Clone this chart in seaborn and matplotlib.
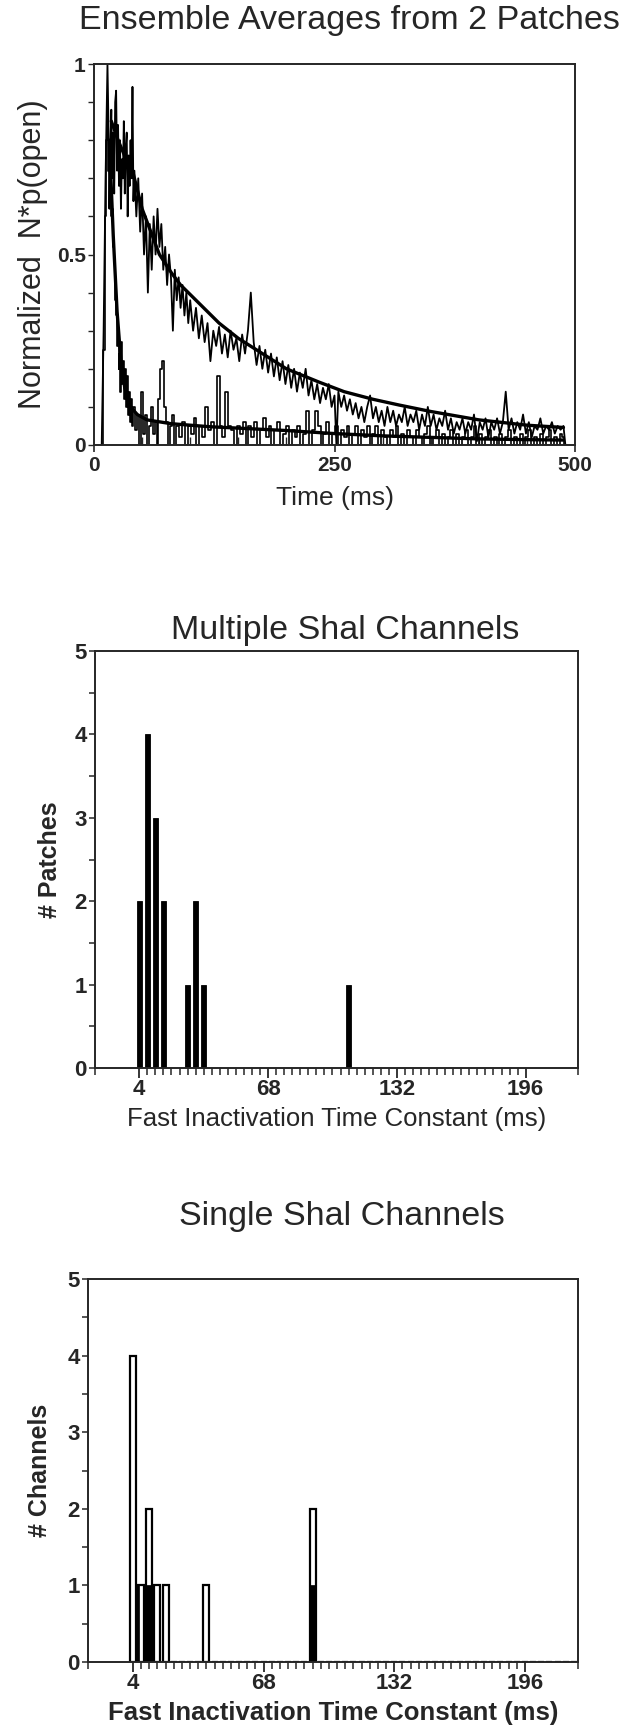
import numpy as np
import pandas as pd
import matplotlib
matplotlib.use("Agg")
import matplotlib.pyplot as plt
import seaborn as sns
from matplotlib.ticker import FixedLocator, MultipleLocator

# ---------------- data ----------------
slow_t = [8, 10, 12, 14, 15, 16, 17, 18, 19, 20, 21, 22, 23, 24, 25, 26, 27, 28, 29, 30,
          31, 32, 33, 34, 35, 36, 37, 38, 39, 40, 41, 42, 44, 46, 48, 50, 52, 54, 56, 58,
          60, 62, 64, 66, 68, 70, 72, 74, 76, 78, 80, 82, 84, 86, 88, 90, 92, 94, 96, 98,
          100, 103, 106, 109, 112, 115, 118, 121, 124, 127, 130, 133, 136, 139, 142, 145,
          148, 151, 154, 157, 160, 163, 166, 169, 172, 175, 178, 181, 184, 187, 190, 193,
          196, 199, 202, 205, 208, 211, 214, 217, 220, 223, 226, 229, 232, 235, 238, 241,
          244, 247, 250, 252, 254, 257, 260, 263, 266, 269, 272, 275, 278, 281, 284, 287,
          290, 293, 296, 299, 302, 305, 308, 311, 314, 317, 320, 323, 326, 329, 332, 335,
          338, 341, 344, 347, 350, 353, 356, 359, 362, 365, 368, 371, 374, 377, 380, 383,
          386, 389, 392, 395, 398, 401, 404, 407, 410, 413, 416, 419, 422, 425, 428, 431,
          434, 437, 440, 443, 446, 449, 452, 455, 458, 461, 464, 467, 470, 473, 476, 479,
          482, 485, 488, 490]
slow_v = [0.0, 0.3, 0.7, 1.0, 0.85, 0.62, 0.78, 0.88, 0.7, 0.82, 0.66, 0.9, 0.93, 0.72, 0.84,
          0.68, 0.8, 0.62, 0.75, 0.7, 0.85, 0.66, 0.78, 0.82, 0.6, 0.76, 0.68, 0.8, 0.7, 0.94,
          0.64, 0.72, 0.6, 0.7, 0.56, 0.66, 0.5, 0.6, 0.4, 0.58, 0.46, 0.6, 0.5, 0.62, 0.52,
          0.58, 0.46, 0.52, 0.42, 0.5, 0.44, 0.3, 0.46, 0.38, 0.44, 0.36, 0.42, 0.34, 0.4, 0.32,
          0.38, 0.3, 0.36, 0.28, 0.34, 0.27, 0.32, 0.22, 0.3, 0.26, 0.31, 0.24, 0.29, 0.23, 0.3,
          0.25, 0.28, 0.22, 0.29, 0.24, 0.3, 0.4, 0.27, 0.21, 0.26, 0.2, 0.25, 0.19, 0.24, 0.18,
          0.23, 0.17, 0.22, 0.16, 0.21, 0.15, 0.2, 0.14, 0.19, 0.15, 0.2, 0.13, 0.17, 0.12, 0.16,
          0.11, 0.15, 0.12, 0.16, 0.1, 0.13, 0.0, 0.14, 0.1, 0.13, 0.09, 0.12, 0.08, 0.11, 0.07,
          0.1, 0.06, 0.1, 0.13, 0.07, 0.1, 0.06, 0.09, 0.05, 0.1, 0.06, 0.09, 0.05, 0.08, 0.06,
          0.1, 0.05, 0.08, 0.06, 0.09, 0.04, 0.08, 0.05, 0.1, 0.05, 0.08, 0.04, 0.07, 0.05, 0.09,
          0.04, 0.07, 0.03, 0.06, 0.04, 0.07, 0.03, 0.06, 0.04, 0.08, 0.01, 0.06, 0.04, 0.07,
          0.02, 0.06, 0.04, 0.07, 0.03, 0.06, 0.14, 0.04, 0.07, 0.03, 0.06, 0.04, 0.08, 0.03,
          0.06, 0.02, 0.05, 0.04, 0.07, 0.03, 0.05, 0.04, 0.06, 0.03, 0.05, 0.04, 0.05, 0.0]

fast_t = [8, 10, 12, 13, 14, 15, 16, 17, 18, 19, 20, 21, 22, 23, 24, 25, 26, 27, 28, 29, 30,
          31, 32, 33, 34, 35, 36, 37, 38, 39, 40, 42, 44, 46, 48, 50, 52, 54, 56, 58, 60, 62,
          64, 66, 68, 70, 72, 74, 76, 78, 80, 82, 84, 87, 90, 93, 96, 99, 102, 105, 108, 111,
          114, 117, 120, 123, 126, 129, 132, 135, 138, 141, 144, 147, 150, 153, 156, 159, 162,
          165, 168, 171, 174, 177, 180, 183, 186, 189, 192, 195, 198, 201, 204, 207, 210, 213,
          216, 219, 222, 225, 228, 231, 234, 237, 240, 243, 246, 249, 252, 255, 258, 261, 264,
          267, 270, 273, 276, 279, 282, 285, 288, 291, 294, 297, 300, 303, 306, 309, 312, 315,
          318, 321, 324, 327, 330, 333, 336, 339, 342, 345, 348, 351, 354, 357, 360, 363, 366,
          369, 372, 375, 378, 381, 384, 387, 390, 393, 396, 399, 402, 405, 408, 411, 414, 417,
          420, 423, 426, 429, 432, 435, 438, 441, 444, 447, 450, 453, 456, 459, 462, 465, 468,
          471, 474, 477, 480, 483, 486, 488, 490]
fast_v = [0.0, 0.25, 0.6, 0.8, 0.9, 0.72, 0.78, 0.68, 0.6, 0.62, 0.52, 0.48, 0.38, 0.34, 0.26,
          0.3, 0.2, 0.24, 0.14, 0.27, 0.16, 0.22, 0.12, 0.2, 0.1, 0.18, 0.08, 0.14, 0.06, 0.12,
          0.05, 0.1, 0.04, 0.08, 0.0, 0.14, 0.03, 0.08, 0.0, 0.05, 0.1, 0.03, 0.06, 0.0, 0.12,
          0.2, 0.22, 0.1, 0.06, 0.0, 0.05, 0.08, 0.0, 0.05, 0.02, 0.06, 0.0, 0.05, 0.03, 0.07,
          0.0, 0.05, 0.02, 0.1, 0.04, 0.06, 0.0, 0.18, 0.05, 0.02, 0.14, 0.05, 0.04, 0.0, 0.05,
          0.03, 0.06, 0.0, 0.05, 0.02, 0.06, 0.0, 0.04, 0.07, 0.02, 0.05, 0.0, 0.04, 0.06, 0.0,
          0.03, 0.05, 0.0, 0.04, 0.02, 0.05, 0.0, 0.03, 0.09, 0.0, 0.04, 0.09, 0.05, 0.0, 0.03,
          0.06, 0.0, 0.03, 0.05, 0.0, 0.04, 0.02, 0.05, 0.0, 0.03, 0.05, 0.0, 0.04, 0.02, 0.05,
          0.0, 0.03, 0.05, 0.0, 0.04, 0.02, 0.0, 0.04, 0.02, 0.05, 0.0, 0.03, 0.0, 0.04, 0.02,
          0.0, 0.04, 0.02, 0.0, 0.03, 0.05, 0.0, 0.02, 0.04, 0.0, 0.03, 0.0, 0.02, 0.04, 0.0,
          0.03, 0.0, 0.02, 0.04, 0.0, 0.02, 0.05, 0.0, 0.03, 0.0, 0.02, 0.04, 0.0, 0.02, 0.0,
          0.03, 0.0, 0.02, 0.04, 0.0, 0.02, 0.0, 0.03, 0.0, 0.02, 0.04, 0.0, 0.02, 0.0, 0.03,
          0.0, 0.02, 0.04, 0.0, 0.02, 0.0, 0.03, 0.02, 0.0]

slow_fit_t = [18, 25, 35, 41, 50, 68, 81, 90, 110, 130, 150, 175, 200, 234, 260, 290, 317,
              350, 400, 450, 488]
slow_fit_v = [0.85, 0.8, 0.74, 0.71, 0.62, 0.5, 0.45, 0.42, 0.37, 0.32, 0.28, 0.24, 0.2,
              0.165, 0.14, 0.12, 0.105, 0.088, 0.066, 0.052, 0.046]
fast_fit_t = [16, 20, 24, 28, 32, 38, 45, 55, 80, 120, 160, 200, 250, 300, 350, 400, 450, 488]
fast_fit_v = [0.8, 0.55, 0.35, 0.22, 0.15, 0.1, 0.08, 0.066, 0.056, 0.048, 0.043, 0.038,
              0.03, 0.024, 0.02, 0.016, 0.014, 0.013]

multi_tau = [4, 8, 12, 16, 28, 32, 36, 108]
multi_count = [2, 4, 3, 2, 1, 2, 1, 1]

single_tau = [4, 8, 12, 16, 20, 40, 92]
single_count = [4, 1, 2, 1, 1, 1, 2]
single_black_tau = [6.4, 12, 92]
single_black_count = [1, 1, 1]

hist_xticks = [4, 68, 132, 196]

# ---------------- styling ----------------
sns.set_theme(style="ticks")
plt.rcParams['font.family'] = ['Liberation Sans', 'DejaVu Sans']
plt.rcParams['axes.linewidth'] = 1.4

W, H = 628, 1730
fig = plt.figure(figsize=(W / 100, H / 100), dpi=100)


def box(l, t, r, b):
    return [l / W, 1 - b / H, (r - l) / W, (b - t) / H]


# ---------------- top: ensemble averages ----------------
ax1 = fig.add_axes(box(94, 64, 575, 445))
df_slow = pd.DataFrame({"t": slow_t, "v": slow_v})
df_fast = pd.DataFrame({"t": fast_t, "v": fast_v})
df_sfit = pd.DataFrame({"t": slow_fit_t, "v": slow_fit_v})
df_ffit = pd.DataFrame({"t": fast_fit_t, "v": fast_fit_v})
sns.lineplot(data=df_fast, x="t", y="v", ax=ax1, color="black", lw=1.2,
             estimator=None, sort=False, drawstyle="steps-mid")
sns.lineplot(data=df_slow, x="t", y="v", ax=ax1, color="black", lw=1.3,
             estimator=None, sort=False)
sns.lineplot(data=df_sfit, x="t", y="v", ax=ax1, color="black", lw=2.4,
             estimator=None, sort=False)
sns.lineplot(data=df_ffit, x="t", y="v", ax=ax1, color="black", lw=2.4,
             estimator=None, sort=False)
ax1.set_xlim(0, 500)
ax1.set_ylim(0, 1)
ax1.xaxis.set_major_locator(FixedLocator([0, 250, 500]))
ax1.xaxis.set_minor_locator(MultipleLocator(50))
ax1.yaxis.set_major_locator(FixedLocator([0, 0.5, 1]))
ax1.yaxis.set_minor_locator(MultipleLocator(0.1))
ax1.set_xticklabels(["0", "250", "500"])
ax1.set_yticklabels(["0", "0.5", "1"])
ax1.tick_params(axis="x", which="major", direction="out", length=5, width=1.2,
                labelsize=15, pad=3)
ax1.tick_params(axis="x", which="minor", direction="in", length=6, width=1.0)
ax1.tick_params(axis="y", which="both", direction="out", length=4, width=1.0,
                labelsize=15, pad=2)
for lab in ax1.get_xticklabels() + ax1.get_yticklabels():
    lab.set_fontweight("bold")
ax1.set_xlabel("Time (ms)", fontsize=19, labelpad=8)
ax1.set_ylabel("Normalized  N*p(open)", fontsize=22, labelpad=6)
fig.text(349 / W, 1 - 20 / H, "Ensemble Averages from 2 Patches", fontsize=24.5,
         ha="center", va="center")

# ---------------- helpers for histograms ----------------
bin_edges = list(np.arange(2, 224, 4))


def style_hist(ax, ylabel, xlabel_weight, ypad):
    ax.set_xlim(-18, 222)
    ax.set_ylim(0, 5)
    ax.xaxis.set_major_locator(FixedLocator(hist_xticks))
    ax.xaxis.set_minor_locator(FixedLocator(list(np.arange(4, 200, 4)) + [-18, 222]))
    ax.yaxis.set_major_locator(FixedLocator([0, 1, 2, 3, 4, 5]))
    ax.yaxis.set_minor_locator(MultipleLocator(0.5))
    ax.tick_params(axis="x", which="major", direction="out", length=7, width=1.3,
                   labelsize=16, pad=1)
    ax.tick_params(axis="x", which="minor", direction="out", length=5, width=1.1)
    ax.tick_params(axis="y", which="both", direction="out", length=4, width=1.1,
                   labelsize=16, pad=2)
    for lab in ax.get_xticklabels() + ax.get_yticklabels():
        lab.set_fontweight("bold")
    ax.set_xlabel("Fast Inactivation Time Constant (ms)", fontsize=18.5,
                  fontweight=xlabel_weight, labelpad=5)
    ax.set_ylabel(ylabel, fontsize=18, fontweight="bold", labelpad=ypad)


# ---------------- middle: multiple channels ----------------
ax2 = fig.add_axes(box(95, 651, 578, 1068))
df_multi = pd.DataFrame({"tau": multi_tau, "n": multi_count})
sns.histplot(data=df_multi, x="tau", weights="n", bins=bin_edges, shrink=0.6, ax=ax2,
             color="black", edgecolor="black", linewidth=0.6, alpha=1)
style_hist(ax2, "# Patches", "normal", 9)
fig.text(345 / W, 1 - 630 / H, "Multiple Shal Channels", fontsize=24.5,
         ha="center", va="center")

# ---------------- bottom: single channels ----------------
ax3 = fig.add_axes(box(88, 1279, 578, 1662))
df_single = pd.DataFrame({"tau": single_tau, "n": single_count})
df_black = pd.DataFrame({"tau": single_black_tau, "n": single_black_count})
sns.histplot(data=df_single, x="tau", weights="n", bins=bin_edges, shrink=0.75, ax=ax3,
             color="white", edgecolor="black", linewidth=1.6, alpha=1)
sns.histplot(data=df_black, x="tau", weights="n",
             bins=[5.6, 7.2, 10.5, 13.5, 90.5, 93.5], ax=ax3,
             color="black", edgecolor="black", linewidth=0.5, alpha=1)
style_hist(ax3, "# Channels", "bold", 11)
fig.text(342 / W, 1 - 1217 / H, "Single Shal Channels", fontsize=24.5,
         ha="center", va="center")

fig.savefig("out.png", dpi=100)
